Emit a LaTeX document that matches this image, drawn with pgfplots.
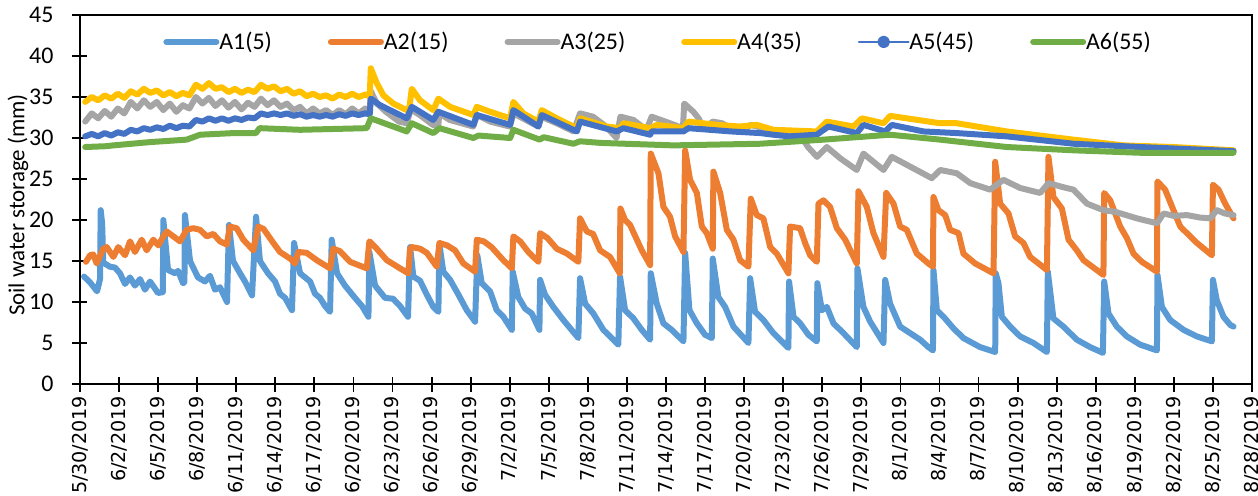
\documentclass[border=0pt]{standalone}
\usepackage{pgfplots}
\pgfplotsset{compat=1.18}
\usepackage{fontspec}
\setmainfont{Carlito}
\newfontfamily\dejavu{DejaVu Sans}
\definecolor{cA1}{RGB}{91,155,213}
\definecolor{cA2}{RGB}{237,125,49}
\definecolor{cA3}{RGB}{165,165,165}
\definecolor{cA4}{RGB}{255,192,0}
\definecolor{cA5}{RGB}{68,114,196}
\definecolor{cA6}{RGB}{112,173,71}
\begin{document}
\begin{tikzpicture}
\begin{axis}[
  scale only axis,
  width=586bp, height=184.5bp,
  xmin=0, xmax=90, ymin=0, ymax=45,
  xtick={0,3,...,90},
  xticklabels={5/30/2019,6/2/2019,6/5/2019,6/8/2019,6/11/2019,6/14/2019,6/17/2019,6/20/2019,6/23/2019,6/26/2019,6/29/2019,7/2/2019,7/5/2019,7/8/2019,7/11/2019,7/14/2019,7/17/2019,7/20/2019,7/23/2019,7/26/2019,7/29/2019,8/1/2019,8/4/2019,8/7/2019,8/10/2019,8/13/2019,8/16/2019,8/19/2019,8/22/2019,8/25/2019,8/28/2019},
  ytick={0,5,...,45},
  tick pos=left,
  tick align=center,
  major tick length=7.5bp,
  tick style={black, line width=0.9bp},
  axis line style={line width=0.9bp},
  /pgf/number format/assume math mode=true,
  x tick label style={font=\dejavu\fontsize{9.6}{11}\selectfont, rotate=90, anchor=east, inner sep=2bp},
  y tick label style={font=\fontsize{12}{14}\selectfont, xshift=-6bp},
  ylabel={Soil water storage (mm)},
  ylabel style={font=\fontsize{11.5}{13}\selectfont, at={(axis description cs:-0.053,0.485)}, anchor=center},
  legend columns=6,
  legend image code/.code={\draw[#1] (0bp,0bp) -- (25bp,0bp);},
  legend style={draw=none, fill=none, inner sep=0pt, anchor=west, at={(axis description cs:0.0708,0.927)},
    font=\fontsize{12}{14}\selectfont,
    /tikz/every odd column/.append style={column sep=-2bp},
    /tikz/every even column/.append style={column sep=26bp}},
  every axis plot/.append style={line width=3bp, line join=round, line cap=round},
]
\addplot[cA1, forget plot] coordinates {
(0.31,13.1) (0.77,12.4) (1.31,11.3) (1.54,12.8) (1.59,21.2) (1.70,19.6) (1.79,14.8) (2.30,14.3) (2.69,14.2) (3.07,13.5) (3.46,12.2) (3.84,13.0) (4.22,12.0) (4.61,12.8) (4.99,11.5) (5.38,12.5) (5.99,11.1)
(6.36,11.2) (6.40,20.0) (6.76,13.9) (7.30,13.5) (7.53,13.8) (7.91,12.3)
(8.02,12.4) (8.06,20.6) (8.45,15.0) (9.06,13.0) (9.60,12.5) (9.98,13.2) (10.37,11.5) (10.75,11.8) (11.29,10.0)
(11.44,19.4) (11.75,15.0) (12.29,13.5) (12.67,12.5) (13.21,10.8)
(13.52,20.4) (13.82,15.0) (14.44,13.5) (14.98,12.5) (15.36,11.0) (15.75,10.5) (16.28,9.0)
(16.44,17.2) (16.90,13.5) (17.67,12.5) (18.05,11.0) (18.43,10.5) (18.82,9.5) (19.20,8.8)
(19.33,17.6) (19.74,13.5) (20.35,12.0) (21.12,10.5) (21.66,9.5) (22.15,8.2)
(22.22,16.1) (22.66,12.0) (23.43,10.5) (24.04,10.4) (24.58,9.5) (25.19,8.2)
(25.35,16.7) (25.60,13.1) (26.11,12.6) (26.63,10.9) (27.13,9.4) (27.52,8.8)
(27.60,17.0) (27.90,13.7) (28.42,12.7) (29.06,10.9) (29.70,9.0) (30.34,7.6)
(30.51,15.7) (30.85,12.3) (31.49,11.3) (32.00,9.0) (32.51,8.2) (33.16,6.6)
(33.23,13.7) (33.66,10.6) (34.18,9.2) (34.69,8.6) (35.28,6.6)
(35.33,12.7) (35.71,10.9) (36.35,9.4) (37.12,7.8) (38.27,5.6)
(38.40,12.9) (38.79,9.8) (39.42,8.6) (40.19,6.6) (41.34,4.8)
(41.47,13.1) (41.86,9.0) (42.50,8.0) (43.14,6.6) (43.78,5.4)
(43.83,13.5) (44.29,9.8) (44.80,7.4) (45.44,6.6) (46.34,5.2)
(46.47,16.0) (46.80,9.0) (47.37,7.4) (48.00,6.0) (48.52,5.6)
(48.59,15.3) (49.02,10.6) (49.54,9.4) (50.18,7.0) (51.33,5.0)
(51.46,12.9) (51.84,8.8) (52.48,7.8) (53.25,6.2) (54.40,4.4)
(54.45,12.5) (54.79,8.2) (55.30,7.4) (55.94,6.0) (56.58,5.2)
(56.62,12.3) (56.97,9.0) (57.35,9.4) (57.86,7.4) (58.63,6.2) (59.65,4.5)
(59.70,14.1) (60.16,9.4) (60.68,7.6) (61.70,5.0)
(61.83,12.7) (62.21,9.8) (62.98,7.0) (63.75,6.2) (64.52,5.4) (65.15,4.5) (65.50,4.1)
(65.54,13.9) (65.80,9.0) (66.31,8.2) (67.07,6.8) (67.84,5.6) (69.12,4.5) (70.28,3.9)
(70.32,13.5) (70.53,12.3) (70.79,8.2) (71.43,7.0) (72.20,5.8) (73.22,5.0) (74.25,3.9)
(74.32,13.7) (74.75,8.0) (75.52,7.0) (76.55,5.4) (77.57,4.5) (78.55,3.8)
(78.65,12.5) (78.98,8.6) (79.62,7.0) (80.39,5.8) (81.41,4.8) (82.70,4.1)
(82.74,13.3) (83.08,9.4) (83.72,7.8) (84.75,6.6) (85.77,5.8) (86.92,5.2)
(87.00,12.7) (87.30,10.2) (87.81,8.2) (88.33,7.2) (88.58,7.0)
};
\addplot[cA2, forget plot] coordinates {
(0.46,14.9) (0.77,15.7) (1.02,15.8) (1.28,14.7) (1.79,16.5) (2.05,16.7) (2.56,15.5) (2.94,16.7) (3.46,15.7) (3.84,17.4) (4.22,16.1) (4.74,17.6) (5.12,16.3) (5.63,17.6) (6.02,16.9) (6.40,18.0) (6.66,18.6) (7.17,18.0) (7.68,17.4) (8.19,18.8) (8.70,19.0) (9.22,18.8) (9.73,18.0) (10.24,18.3) (10.75,17.4) (11.27,17.0)
(11.52,19.2) (12.03,19.0) (12.54,17.6) (13.31,16.3) (13.69,19.2) (14.10,18.9) (14.85,17.2) (15.36,16.1) (16.13,15.3) (16.51,14.7)
(16.77,16.1) (17.40,16.0) (18.18,15.1) (19.20,14.1) (19.45,16.5) (19.96,16.2) (20.74,14.9) (22.02,14.1) (22.22,17.4) (22.79,16.5) (23.56,15.1) (24.58,14.1) (25.21,13.5)
(25.35,16.5) (25.48,16.7) (26.11,16.5) (26.63,16.0) (27.40,14.3) (27.60,17.2) (28.20,16.9) (28.80,16.3) (29.44,14.7) (30.34,13.7)
(30.47,17.6) (31.00,17.4) (31.60,16.7) (32.51,15.1) (33.16,14.1) (33.28,18.0) (33.80,17.4) (34.43,16.1) (35.20,14.9)
(35.33,18.4) (35.90,17.8) (36.61,16.5) (37.40,15.9) (38.27,14.9) (38.40,20.2) (38.92,18.6) (39.40,18.3) (39.94,16.3) (40.70,15.5) (41.45,13.5)
(41.50,21.4) (41.86,20.0) (42.24,19.4) (42.76,17.6) (43.14,16.3) (43.78,14.5)
(43.83,28.1) (44.42,25.7) (44.80,21.6) (45.31,20.4) (45.70,18.0) (46.34,16.1)
(46.47,28.5) (46.85,24.9) (47.37,23.3) (47.75,19.2) (48.13,18.4) (48.59,16.5)
(48.64,25.9) (49.16,23.3) (49.67,18.8) (50.18,17.6) (50.69,15.1) (51.33,14.3)
(51.51,22.6) (51.97,20.6) (52.48,20.2) (53.00,16.7) (53.51,15.9) (54.40,13.5)
(54.53,19.2) (55.30,19.0) (55.68,17.2) (56.07,15.7) (56.58,14.9)
(56.71,22.0) (57.09,22.4) (57.60,21.6) (58.12,19.0) (58.76,17.6) (59.65,14.7)
(59.78,23.5) (60.42,21.6) (60.93,18.4) (61.70,15.5)
(61.91,23.3) (62.47,22.0) (62.98,19.2) (63.49,18.8) (64.26,15.9) (65.15,14.7) (65.50,14.3)
(65.54,22.8) (65.92,21.2) (66.44,20.6) (66.82,18.8) (67.46,18.4) (67.84,15.9) (68.74,14.7) (70.15,13.5)
(70.28,27.1) (70.66,22.0) (71.30,20.8) (71.81,18.0) (72.45,17.2) (72.96,15.5) (74.25,13.9)
(74.37,27.7) (74.75,22.8) (75.40,21.4) (75.91,17.6) (76.55,16.3) (77.06,15.1) (78.59,13.3)
(78.65,23.3) (79.11,22.4) (79.88,19.2) (80.39,17.8) (80.90,15.9) (81.54,14.9) (82.70,13.7)
(82.74,24.7) (83.33,23.7) (83.97,21.2) (84.49,19.2) (85.00,18.4) (85.77,17.2) (86.92,15.7)
(87.00,24.3) (87.43,23.7) (87.94,22.0) (88.58,20.2)
};
\addplot[cA3, forget plot] coordinates {
(0.4,32.0) (0.9,33.0) (1.4,32.4) (1.9,33.3) (2.4,32.6) (2.9,33.6) (3.4,33.0) (3.9,34.4) (4.4,33.6) (4.9,34.6) (5.4,33.8) (5.9,34.4) (6.4,33.4) (6.9,34.2) (7.4,33.2) (7.9,34.0) (8.4,33.6) (8.9,35.0) (9.4,34.2) (9.9,34.9) (10.4,33.9) (10.9,34.6) (11.4,33.7) (11.9,34.4) (12.4,33.5) (12.9,34.3) (13.4,33.8) (13.9,34.8) (14.4,34.0) (14.9,34.6) (15.4,33.8) (15.9,34.2) (16.4,33.4) (16.9,33.8) (17.4,33.0) (17.9,33.6) (18.4,33.0) (18.9,33.4) (19.4,32.8) (19.9,33.4) (20.4,32.9) (20.9,33.6) (21.4,33.0) (21.9,33.6) (22.25,33.2)
(22.33,35.7) (22.8,34.2) (23.5,33.2) (24.5,32.0) (25.1,31.8) (25.4,33.5) (26.1,32.8) (27.1,31.6) (27.5,31.4) (27.6,33.0) (28.4,32.2) (30.2,31.4) (30.5,32.8) (31.5,32.0) (33.0,31.4) (33.3,33.0) (34.0,32.4) (35.2,31.4) (35.4,32.6) (36.6,31.8) (37.9,30.8) (38.4,33.0) (39.4,32.6) (40.4,31.4) (41.2,30.0) (41.5,32.6) (42.5,32.2) (43.5,31.0) (43.9,32.6) (44.6,32.2) (45.3,31.8) (46.3,31.2)
(46.4,34.2) (47.1,33.2) (47.5,32.4) (47.9,31.2) (48.6,32.0) (49.3,31.8) (50.0,31.2) (51.0,31.0) (51.5,31.6) (53.0,31.0) (54.5,30.6) (55.3,30.4) (55.9,28.9) (56.6,27.7) (57.35,28.9) (58.4,27.5) (59.65,26.1) (60.16,28.1) (61.70,26.1) (62.34,27.7) (64.0,26.3) (65.41,25.1) (66.05,26.1) (67.33,25.7) (68.36,24.5) (69.89,23.7) (70.91,24.9) (72.20,23.9) (73.73,23.3) (74.37,24.5) (75.5,24.0) (76.29,23.7) (77.32,22.0) (78.59,21.2) (79.5,21.0) (81.16,20.2) (82.70,19.6) (83.21,20.8) (84.0,20.5) (85.00,20.6) (86.0,20.3) (86.79,20.2) (87.30,21.2) (87.9,20.8) (88.58,20.6)
};
\addplot[cA4, forget plot] coordinates {
(0.4,34.4) (0.9,35.0) (1.4,34.6) (1.9,35.2) (2.4,34.8) (2.9,35.4) (3.4,34.9) (3.9,35.7) (4.4,35.3) (4.9,36.0) (5.4,35.5) (5.9,35.8) (6.4,35.2) (6.9,35.6) (7.4,35.1) (7.9,35.5) (8.4,35.2) (8.9,36.5) (9.4,36.0) (9.9,36.7) (10.4,36.0) (10.9,36.2) (11.4,35.6) (11.9,36.0) (12.4,35.5) (12.9,35.9) (13.4,35.6) (13.9,36.5) (14.4,36.0) (14.9,36.3) (15.4,35.7) (15.9,36.0) (16.4,35.4) (16.9,35.7) (17.4,35.1) (17.9,35.4) (18.4,35.0) (18.9,35.2) (19.4,34.8) (19.9,35.3) (20.4,35.0) (20.9,35.4) (21.4,35.0) (21.9,35.3) (22.25,35.1)
(22.33,38.5) (22.79,36.7) (23.30,35.2) (24.06,34.2) (25.09,33.4) (25.3,33.8) (25.48,36.0) (26.11,34.6) (27.13,33.4) (27.52,34.8) (28.42,33.8) (30.21,32.8) (30.47,33.8) (31.49,33.2) (33.03,32.4) (33.28,34.4) (34.05,33.0) (35.20,32.0) (35.46,33.4) (36.61,32.4) (38.15,31.2) (38.40,32.4) (40.45,31.4) (41.47,31.2) (41.73,31.8) (43.78,31.2) (44.29,31.6) (46.34,31.2) (46.72,32.0) (48.90,31.6) (50.69,31.4) (51.97,31.6) (53.25,31.0) (56.58,30.8) (57.35,32.0) (59.39,31.4) (60.04,32.4) (61.70,31.8) (62.21,32.7) (66.05,31.8) (67.33,31.8) (71.17,30.8) (76.29,29.8) (80.13,29.1) (83.97,28.9) (88.58,28.5)
};
\addplot[cA5, forget plot] coordinates {
(0.4,30.2) (0.9,30.5) (1.4,30.2) (1.9,30.6) (2.4,30.3) (2.9,30.7) (3.4,30.5) (3.9,31.0) (4.4,30.8) (4.9,31.2) (5.4,31.0) (5.9,31.3) (6.4,31.1) (6.9,31.5) (7.4,31.2) (7.9,31.5) (8.4,31.4) (8.9,32.2) (9.4,32.0) (9.9,32.4) (10.4,32.1) (10.9,32.4) (11.4,32.1) (11.9,32.4) (12.4,32.2) (12.9,32.5) (13.4,32.4) (13.9,33.0) (14.4,32.8) (14.9,33.0) (15.4,32.8) (15.9,33.0) (16.4,32.7) (16.9,32.9) (17.4,32.6) (17.9,32.8) (18.4,32.6) (18.9,32.8) (19.4,32.6) (19.9,32.9) (20.4,32.7) (20.9,33.0) (21.4,32.8) (21.9,33.0) (22.25,32.9)
(22.33,34.8) (23.04,34.0) (25.09,32.4) (25.48,33.8) (27.13,32.2) (27.52,33.2) (30.21,31.6) (30.47,32.8) (33.03,31.6) (33.28,33.4) (35.20,31.4) (35.46,32.8) (38.15,30.8) (38.40,32.0) (41.22,30.8) (41.73,31.2) (43.78,30.4) (43.9,30.8) (46.34,30.8) (46.72,31.2) (50.0,30.8) (52.23,30.6) (53.25,30.4) (54.5,30.2) (56.58,30.4) (57.47,31.4) (59.65,30.6) (60.16,31.6) (61.83,30.8) (62.34,31.6) (64.77,30.8) (67.33,30.6) (71.17,30.2) (76.29,29.3) (81.41,28.9) (88.58,28.4)
};
\addplot[cA6, forget plot] coordinates {
(0.4,28.9) (2.0,29.0) (2.56,29.1) (5.38,29.5) (8.19,29.8) (9.22,30.4) (11.80,30.6) (13.5,30.6) (13.8,31.2) (16.90,31.0) (22.02,31.2) (22.33,32.4) (25.09,30.8) (25.48,31.8) (27.13,30.6) (27.6,31.2) (30.21,30.0) (30.6,30.3) (33.03,30.0) (33.28,31.0) (35.3,29.8) (35.6,30.1) (37.89,29.3) (38.4,29.6) (40.0,29.4) (45.57,29.1) (52.23,29.3) (57.09,29.8) (62.21,30.4) (66.05,29.8) (71.17,28.9) (76.29,28.5) (81.41,28.2) (88.58,28.2)
};
\addlegendimage{cA1, line width=3bp}
\addlegendentry{A1(5)}
\addlegendimage{cA2, line width=3bp}
\addlegendentry{A2(15)}
\addlegendimage{cA3, line width=3bp}
\addlegendentry{A3(25)}
\addlegendimage{cA4, line width=3bp}
\addlegendentry{A4(35)}
\addlegendimage{legend image code/.code={\draw[cA5, line width=0.8bp] (0bp,0bp) -- (25bp,0bp); \fill[cA5] (12.5bp,0bp) circle (1.6bp);}}
\addlegendentry{A5(45)}
\addlegendimage{cA6, line width=3bp}
\addlegendentry{A6(55)}
\coordinate (bl) at (rel axis cs:0,0);
\end{axis}
\pgfresetboundingbox
\path[use as bounding box] ([shift={(-40bp,-56bp)}]bl) rectangle ([shift={(589bp,192bp)}]bl);
\end{tikzpicture}
\end{document}
